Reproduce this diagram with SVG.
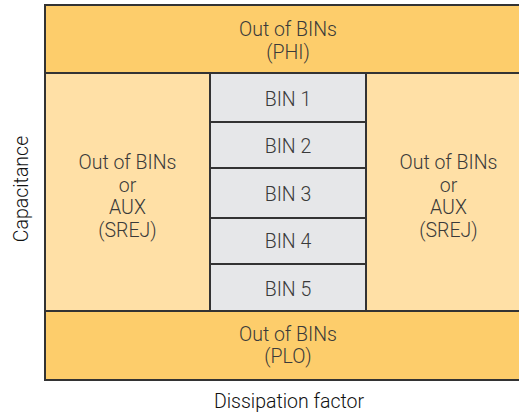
<svg xmlns="http://www.w3.org/2000/svg" width="519" height="418" viewBox="0 0 519 418">
<style>
.band{fill:#FDCD6B;stroke:#333;stroke-width:2}
.side{fill:#FFE0A6;stroke:#333;stroke-width:2}
.bin{fill:#E6E7E9;stroke:#333;stroke-width:2}
.t{font-family:Roboto,"Liberation Sans",sans-serif;font-weight:300;font-size:19.5px;fill:#3a3a3a;text-anchor:middle}
.ax{font-family:Roboto,"Liberation Sans",sans-serif;font-weight:300;font-size:19.5px;fill:#111;text-anchor:middle}
</style>
<rect width="519" height="418" fill="#fff"/>
<g id="left-side">
<rect class="side" x="45" y="73" width="165" height="238"/>
<text class="t" x="127.5" y="169">Out of BINs</text>
<text class="t" x="127.5" y="191.7">or</text>
<text class="t" x="127.5" y="214.3">AUX</text>
<text class="t" x="127.5" y="237">(SREJ)</text>
</g>
<g id="right-side">
<rect class="side" x="366" y="73" width="165" height="238"/>
<text class="t" x="448.5" y="169">Out of BINs</text>
<text class="t" x="448.5" y="191.7">or</text>
<text class="t" x="448.5" y="214.3">AUX</text>
<text class="t" x="448.5" y="237">(SREJ)</text>
</g>
<g id="bin1"><rect class="bin" x="210" y="73" width="156" height="49"/><text class="t" x="288" y="106.3">BIN 1</text></g>
<g id="bin2"><rect class="bin" x="210" y="122" width="156" height="46"/><text class="t" x="288" y="153">BIN 2</text></g>
<g id="bin3"><rect class="bin" x="210" y="168" width="156" height="50"/><text class="t" x="288" y="201.3">BIN 3</text></g>
<g id="bin4"><rect class="bin" x="210" y="218" width="156" height="46"/><text class="t" x="288" y="248.3">BIN 4</text></g>
<g id="bin5"><rect class="bin" x="210" y="264" width="156" height="47"/><text class="t" x="288" y="296">BIN 5</text></g>
<g id="phi">
<rect class="band" x="45" y="5" width="486" height="68"/>
<text class="t" x="288" y="35.7">Out of BINs</text>
<text class="t" x="288" y="59.3">(PHI)</text>
</g>
<g id="plo">
<rect class="band" x="45" y="311" width="486" height="69"/>
<text class="t" x="288" y="340.7">Out of BINs</text>
<text class="t" x="288" y="363">(PLO)</text>
</g>
<g id="connectors"></g>
<g id="axes">
<text class="ax" x="0" y="0" transform="translate(28 189) rotate(-90)">Capacitance</text>
<text class="ax" x="289" y="408">Dissipation factor</text>
</g>
</svg>
